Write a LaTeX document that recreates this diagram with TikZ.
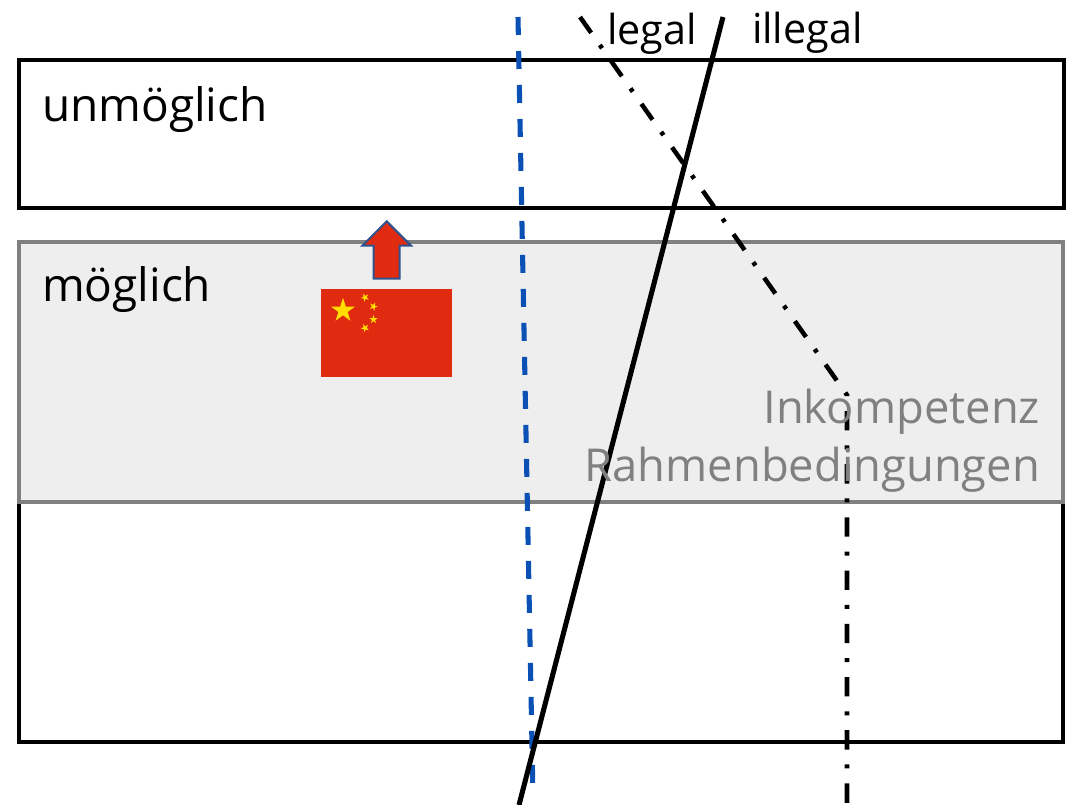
\documentclass[tikz,border=0pt]{standalone}
\usepackage{fontspec}
\setmainfont{Open Sans}
\usetikzlibrary{shapes.geometric, shapes.arrows}
\definecolor{flagred}{HTML}{E02B10}
\definecolor{flagyellow}{HTML}{FFDE00}
\definecolor{arrowblue}{HTML}{2F528F}
\definecolor{lineblue}{HTML}{0B50B4}
\definecolor{panelgray}{HTML}{EEEEEE}
\tikzset{
	every node/.style={outer sep=0pt},
	blackbox/.style={draw=black, line width=3pt, anchor=north west, inner sep=0pt},
	graybox/.style={draw=gray, fill=panelgray, line width=3.4pt, anchor=north west, inner sep=0pt},
	bigtext/.style={font=\fontsize{34.5}{34.5}\selectfont, anchor=base west, inner sep=0pt},
	smalltext/.style={font=\fontsize{31}{31}\selectfont, anchor=base west, inner sep=0pt},
	graytext/.style={font=\fontsize{34}{34}\selectfont, text=gray, anchor=base east, inner sep=0pt},
	flagstar/.style={star, star points=5, star point ratio=2.618, fill=flagyellow, inner sep=0pt},
	legalline/.style={line width=3.8pt},
	chinaline/.style={draw=lineblue, line width=3.8pt, dash pattern=on 13.5pt off 12pt},
	kompline/.style={line width=3.4pt, dash pattern=on 14.5pt off 11.2pt on 3pt off 11.2pt}
}

\begin{document}
\begin{tikzpicture}[x=0.75pt, y=-0.75pt]
	\useasboundingbox (0,0) rectangle (1067,805);
	% bands
	\node[blackbox, minimum width=783.75pt, minimum height=111pt] (top) at (19,60) {};
	\node[blackbox, minimum width=783pt, minimum height=180pt] (bottom) at (19,502) {};
	\node[graybox, minimum width=783pt, minimum height=195pt] (middle) at (19,242) {};
	% flag
	\node[fill=flagred, minimum width=98.25pt, minimum height=66pt, inner sep=0pt] (flag) at (386.5,333) {};
	\node[flagstar, minimum size=19pt] (bigstar) at (343,310.5) {};
	\node[flagstar, minimum size=6.5pt, rotate=25] (star1) at (365,297.5) {};
	\node[flagstar, minimum size=6.5pt, rotate=50] (star2) at (373.5,306.5) {};
	\node[flagstar, minimum size=6.5pt, rotate=0] (star3) at (373.5,319.5) {};
	\node[flagstar, minimum size=6.5pt, rotate=25] (star4) at (365,328) {};
	\node[single arrow, rotate=90, draw=arrowblue, fill=flagred, line width=1.5pt, minimum height=43pt, single arrow head extend=8.4pt, single arrow tip angle=90, inner xsep=0pt, inner ysep=9pt] (up) at (386.7,256.5) {};
	% boundaries
	\coordinate (bluetop) at (518,17);
	\coordinate (blueend) at (533,798);
	\coordinate (solidtop) at (723,17);
	\coordinate (solidend) at (519,805);
	\coordinate (komptop) at (580,17);
	\coordinate (kompbend) at (847,395);
	\coordinate (kompend) at (847,805);
	\draw[chinaline] (bluetop) -- (blueend);
	\draw[kompline] (komptop) -- (kompbend) -- (kompend);
	\draw[legalline] (solidtop) -- (solidend);
	% labels
	\node[bigtext] (unmoeglich) at (42,122) {unmöglich};
	\node[bigtext] (moeglich) at (42,302) {möglich};
	\node[smalltext] (legal) at (607,45) {legal};
	\node[smalltext] (illegal) at (752,44) {illegal};
	\node[graytext] (inkompetenz) at (1040,423) {Inkompetenz};
	\node[graytext] (rahmen) at (1040,481) {Rahmenbedingungen};
\end{tikzpicture}
\end{document}
